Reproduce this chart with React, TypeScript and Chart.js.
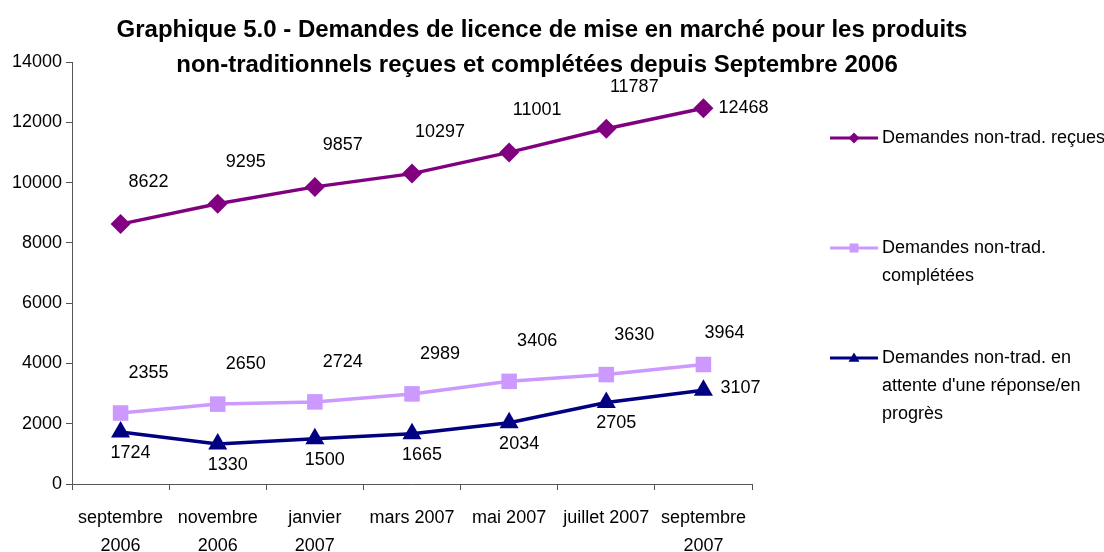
import React, { useEffect, useRef } from 'react';
import { Chart, registerables } from 'chart.js';

Chart.register(...registerables);

const FONT = '"Liberation Sans", Arial, sans-serif';

const titleLines = [
  'Graphique 5.0 - Demandes de licence de mise en marché pour les produits',
  'non-traditionnels reçues et complétées depuis Septembre 2006',
];

const categories: (string | string[])[] = [
  ['septembre', '2006'],
  ['novembre', '2006'],
  ['janvier', '2007'],
  'mars 2007',
  'mai 2007',
  'juillet 2007',
  ['septembre', '2007'],
];

const recues = [8622, 9295, 9857, 10297, 11001, 11787, 12468];
const completees = [2355, 2650, 2724, 2989, 3406, 3630, 3964];
const enAttente = [1724, 1330, 1500, 1665, 2034, 2705, 3107];

const yMin = 0;
const yMax = 14000;
const yStep = 2000;

const seriesNames = [
  'Demandes non-trad. reçues',
  'Demandes non-trad. complétées',
  "Demandes non-trad. en attente d'une réponse/en progrès",
];
const legendLines = [
  ['Demandes non-trad. reçues'],
  ['Demandes non-trad.', 'complétées'],
  ['Demandes non-trad. en', "attente d'une réponse/en", 'progrès'],
];

const colors = ['#800080', '#CC99FF', '#000080'];
const pointStyles = ['rectRot', 'rect', 'triangle'];

// label placement relative to each point (style, not data)
const labelPlacement = [
  { dx: 28, dy: -42, lastDx: 40, lastDy: 0 },
  { dx: 28, dy: -40, lastDx: 21, lastDy: -31 },
  { dx: 10, dy: 21, lastDx: 37, lastDy: -2 },
];

const titlePlugin = {
  id: 'customTitle',
  afterDraw(chart: any) {
    const ctx = chart.ctx;
    ctx.save();
    ctx.font = `bold 24px ${FONT}`;
    ctx.fillStyle = '#000';
    ctx.textAlign = 'center';
    ctx.textBaseline = 'middle';
    ctx.fillText(titleLines[0], 542, 30);
    ctx.fillText(titleLines[1], 537, 65);
    ctx.restore();
  },
};

const valueLabels = {
  id: 'valueLabels',
  afterDatasetsDraw(chart: any) {
    const ctx = chart.ctx;
    ctx.save();
    ctx.font = `18px ${FONT}`;
    ctx.fillStyle = '#000';
    ctx.textAlign = 'center';
    ctx.textBaseline = 'middle';
    chart.data.datasets.forEach((ds: any, i: number) => {
      const meta = chart.getDatasetMeta(i);
      const p = labelPlacement[i];
      meta.data.forEach((pt: any, j: number) => {
        const last = j === meta.data.length - 1;
        const dx = last ? p.lastDx : p.dx;
        const dy = last ? p.lastDy : p.dy;
        ctx.fillText(String(ds.data[j]), pt.x + dx, pt.y + dy);
      });
    });
    ctx.restore();
  },
};

function drawMarker(ctx: CanvasRenderingContext2D, style: string, x: number, y: number, r: number) {
  ctx.beginPath();
  if (style === 'rectRot') {
    ctx.moveTo(x, y - r);
    ctx.lineTo(x + r, y);
    ctx.lineTo(x, y + r);
    ctx.lineTo(x - r, y);
  } else if (style === 'rect') {
    ctx.rect(x - r, y - r, 2 * r, 2 * r);
  } else {
    ctx.moveTo(x, y - r);
    ctx.lineTo(x + r, y + r * 0.7);
    ctx.lineTo(x - r, y + r * 0.7);
  }
  ctx.closePath();
  ctx.fill();
}

const legendPlugin = {
  id: 'customLegend',
  afterDraw(chart: any) {
    const ctx = chart.ctx;
    const area = chart.chartArea;
    const lx0 = area.right + 78;
    const lx1 = lx0 + 48;
    const tx = lx1 + 4;
    const firstY = 138;
    const gap = 110;
    const lineH = 28;
    ctx.save();
    ctx.font = `18px ${FONT}`;
    ctx.textAlign = 'left';
    ctx.textBaseline = 'middle';
    legendLines.forEach((lines, i) => {
      const y = firstY + i * gap;
      ctx.strokeStyle = colors[i];
      ctx.fillStyle = colors[i];
      ctx.lineWidth = 3;
      ctx.beginPath();
      ctx.moveTo(lx0, y);
      ctx.lineTo(lx1, y);
      ctx.stroke();
      drawMarker(ctx, pointStyles[i], (lx0 + lx1) / 2, y, pointStyles[i] === 'rect' ? 4.5 : 5.5);
      ctx.fillStyle = '#000';
      lines.forEach((t, k) => ctx.fillText(t, tx, y + k * lineH));
    });
    ctx.restore();
  },
};

export default function App() {
  const ref = useRef<HTMLCanvasElement>(null);
  useEffect(() => {
    document.body.style.margin = '0';
    const canvas = ref.current!;
    const datasets = [recues, completees, enAttente].map((d, i) => ({
      label: seriesNames[i],
      data: d,
      borderColor: colors[i],
      backgroundColor: colors[i],
      borderWidth: 3.5,
      pointStyle: pointStyles[i] as any,
      pointRadius: i === 0 ? 10 : 11,
      pointBorderWidth: 0,
      pointBackgroundColor: colors[i],
      tension: 0,
      fill: false,
    }));
    const chart = new Chart(canvas, {
      type: 'line',
      data: { labels: categories as any, datasets },
      plugins: [titlePlugin, valueLabels, legendPlugin],
      options: {
        animation: false,
        responsive: false,
        layout: { padding: { top: 62, right: 352, left: 0, bottom: 0 } },
        plugins: {
          legend: { display: false },
          title: { display: false },
          tooltip: { enabled: false },
        },
        scales: {
          x: {
            type: 'category',
            offset: true,
            grid: {
              display: true,
              offset: true,
              drawOnChartArea: false,
              drawTicks: true,
              tickLength: 6,
              color: '#555',
            },
            border: { display: true, color: '#555', width: 1 },
            ticks: {
              color: '#000',
              font: { family: FONT, size: 18, lineHeight: 1.56 },
              maxRotation: 0,
              autoSkip: false,
              padding: 14,
            },
            afterFit(scale: any) {
              scale.height = 68;
            },
          },
          y: {
            min: yMin,
            max: yMax,
            grid: {
              display: true,
              drawOnChartArea: false,
              drawTicks: true,
              tickLength: 6,
              color: '#555',
            },
            border: { display: true, color: '#555', width: 1 },
            ticks: {
              stepSize: yStep,
              color: '#000',
              font: { family: FONT, size: 18 },
              padding: 4,
              callback: (v: any) => String(v),
            },
            afterFit(scale: any) {
              scale.width = 72;
            },
          },
        },
      },
    });
    return () => chart.destroy();
  }, []);
  return <canvas ref={ref} width={1104} height={552} style={{ display: 'block' }} />;
}
